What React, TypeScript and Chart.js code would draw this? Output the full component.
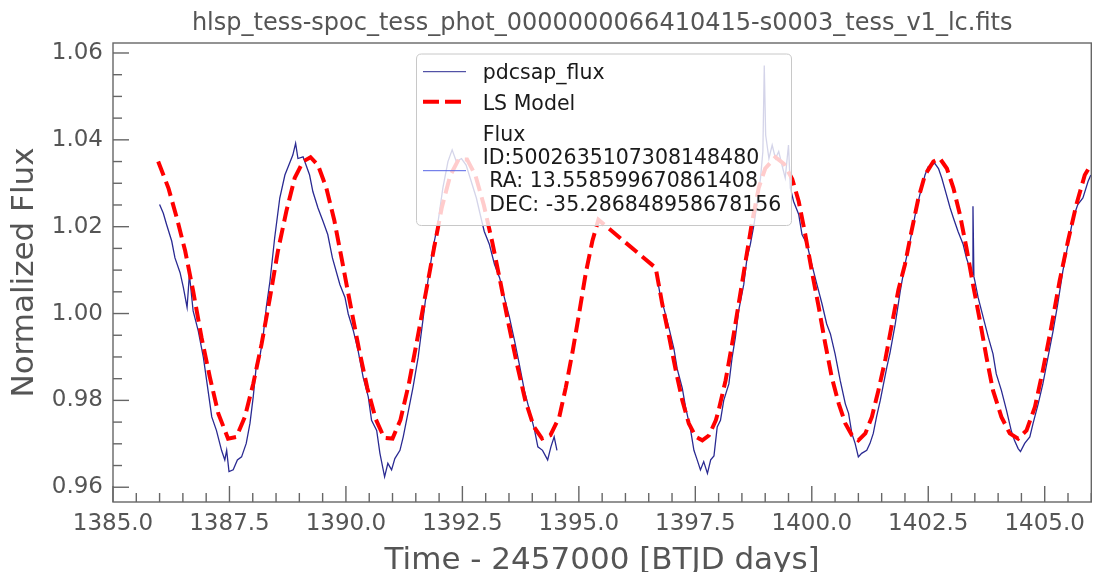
import React, { useEffect, useRef } from 'react';
import { Chart, registerables } from 'chart.js';

Chart.register(...registerables);

const titleText = 'hlsp_tess-spoc_tess_phot_0000000066410415-s0003_tess_v1_lc.fits';
const xAxisTitle = 'Time - 2457000 [BTJD days]';
const yAxisTitle = 'Normalized Flux';

const xTickValues = [1385, 1387.5, 1390, 1392.5, 1395, 1397.5, 1400, 1402.5, 1405];
const xTickLabels = ['1385.0', '1387.5', '1390.0', '1392.5', '1395.0', '1397.5', '1400.0', '1402.5', '1405.0'];
const yTickValues = [0.96, 0.98, 1.0, 1.02, 1.04, 1.06];
const yTickLabels = ['0.96', '0.98', '1.00', '1.02', '1.04', '1.06'];

const legendLabels = [
  'pdcsap_flux',
  'LS Model',
  'Flux\nID:5002635107308148480\n RA: 13.558599670861408\n DEC: -35.286848958678156',
];

// pdcsap_flux (null = data gap)
const fluxTime = [
  1386.00, 1386.08, 1386.15, 1386.26, 1386.33, 1386.44, 1386.51, 1386.59, 1386.64, 1386.72,
  1386.83, 1386.94, 1387.04, 1387.12, 1387.22, 1387.33, 1387.40, 1387.44, 1387.49, 1387.58,
  1387.67, 1387.76, 1387.86, 1387.94, 1388.01, 1388.08, 1388.15, 1388.22, 1388.29, 1388.37,
  1388.47, 1388.58, 1388.69, 1388.79, 1388.86, 1388.92, 1388.97, 1389.08, 1389.22, 1389.29,
  1389.40, 1389.51, 1389.61, 1389.71, 1389.87, 1389.98, 1390.05, 1390.16, 1390.26, 1390.37,
  1390.48, 1390.55, 1390.66, 1390.73, 1390.83, 1390.90, 1390.98, 1391.05, 1391.16, 1391.23,
  1391.33, 1391.44, 1391.55, 1391.66, 1391.76, 1391.87, 1391.97, 1392.08, 1392.19, 1392.28,
  1392.37, 1392.48, 1392.58, 1392.69, 1392.80, 1392.90, 1392.97, 1393.08, 1393.19, 1393.30,
  1393.40, 1393.51, 1393.62, 1393.72, 1393.83, 1393.94, 1394.05, 1394.12, 1394.22, 1394.33,
  1394.40, 1394.47, 1394.53, 1395.50,
  1396.66, 1396.75, 1396.83, 1396.94, 1397.04, 1397.11, 1397.22, 1397.29, 1397.40, 1397.47,
  1397.54, 1397.61, 1397.68, 1397.76, 1397.83, 1397.90, 1397.97, 1398.04, 1398.11, 1398.22,
  1398.29, 1398.36, 1398.43, 1398.54, 1398.61, 1398.68, 1398.76, 1398.83, 1398.90, 1398.95,
  1398.98, 1399.01, 1399.08, 1399.15, 1399.22, 1399.29, 1399.36, 1399.43, 1399.50, 1399.54,
  1399.61, 1399.72, 1399.79, 1399.90, 1400.00, 1400.11, 1400.22, 1400.32, 1400.40, 1400.50,
  1400.61, 1400.72, 1400.79, 1400.86, 1400.93, 1401.00, 1401.07, 1401.18, 1401.25, 1401.32,
  1401.39, 1401.47, 1401.54, 1401.61, 1401.68, 1401.79, 1401.90, 1402.00, 1402.11, 1402.22,
  1402.32, 1402.43, 1402.50, 1402.57, 1402.64, 1402.72, 1402.79, 1402.89, 1402.97, 1403.04,
  1403.14, 1403.25, 1403.32, 1403.39, 1403.45, 1403.46, 1403.48, 1403.50, 1403.57, 1403.68,
  1403.79, 1403.89, 1403.96, 1404.07, 1404.18, 1404.28, 1404.35, 1404.43, 1404.48, 1404.57,
  1404.68, 1404.75, 1404.86, 1404.96, 1405.07, 1405.18, 1405.28, 1405.39, 1405.50, 1405.61,
  1405.71, 1405.82, 1405.93, 1405.99,
];
const fluxValue = [
  1.0251, 1.0231, 1.0205, 1.0167, 1.0128, 1.0094, 1.0060, 1.0014, 1.0090, 1.0006,
  0.9960, 0.9899, 0.9823, 0.9762, 0.9731, 0.9685, 0.9663, 0.9685, 0.9636, 0.9640,
  0.9663, 0.9670, 0.9701, 0.9747, 0.9808, 0.9884, 0.9899, 0.9945, 1.0014, 1.0075,
  1.0174, 1.0266, 1.0319, 1.0346, 1.0365, 1.0392, 1.0357, 1.0361, 1.0319, 1.0281,
  1.0243, 1.0212, 1.0182, 1.0128, 1.0067, 1.0037, 0.9999, 0.9960, 0.9915, 0.9853,
  0.9808, 0.9754, 0.9731, 0.9678, 0.9624, 0.9655, 0.9640, 0.9666, 0.9685, 0.9716,
  0.9770, 0.9830, 0.9899, 0.9991, 1.0075, 1.0151, 1.0205, 1.0289, 1.0350, 1.0377,
  1.0350, 1.0357, 1.0342, 1.0304, 1.0266, 1.0220, 1.0189, 1.0159, 1.0113, 1.0082,
  1.0037, 0.9991, 0.9937, 0.9884, 0.9823, 0.9777, 0.9731, 0.9693, 0.9685, 0.9663,
  0.9693, 0.9716, 0.9685, null,
  1.0095, 1.0040, 1.0010, 0.9964, 0.9919, 0.9873, 0.9828, 0.9785, 0.9731, 0.9685,
  0.9663, 0.9640, 0.9659, 0.9632, 0.9663, 0.9672, 0.9739, 0.9754, 0.9800, 0.9838,
  0.9899, 0.9945, 1.0006, 1.0067, 1.0128, 1.0159, 1.0205, 1.0258, 1.0312, 1.0373,
  1.0571, 1.0411, 1.0357, 1.0388, 1.0357, 1.0373, 1.0342, 1.0312, 1.0388, 1.0289,
  1.0258, 1.0228, 1.0182, 1.0159, 1.0113, 1.0067, 1.0022, 0.9976, 0.9953, 0.9907,
  0.9846, 0.9792, 0.9770, 0.9724, 0.9701, 0.9670, 0.9678, 0.9685, 0.9701, 0.9724,
  0.9762, 0.9800, 0.9838, 0.9876, 0.9910, 0.9975, 1.0052, 1.0113, 1.0167, 1.0228,
  1.0274, 1.0319, 1.0338, 1.0342, 1.0346, 1.0334, 1.0312, 1.0274, 1.0243, 1.0220,
  1.0189, 1.0159, 1.0128, 1.0105, 1.0090, 1.0247, 1.0085, 1.0075, 1.0037, 0.9991,
  0.9945, 0.9907, 0.9861, 0.9823, 0.9777, 0.9731, 0.9708, 0.9689, 0.9682, 0.9701,
  0.9716, 0.9747, 0.9792, 0.9838, 0.9899, 0.9960, 1.0022, 1.0098, 1.0159, 1.0220,
  1.0251, 1.0266, 1.0304, 1.0319,
];

// LS Model
const modelTime = [
  1385.97, 1386.19, 1386.37, 1386.55, 1386.72, 1386.90, 1387.08, 1387.26, 1387.47, 1387.65,
  1387.83, 1388.01, 1388.19, 1388.37, 1388.54, 1388.72, 1388.90, 1389.08, 1389.24, 1389.40,
  1389.58, 1389.75, 1389.92, 1390.10, 1390.28, 1390.46, 1390.64, 1390.82, 1391.00, 1391.17,
  1391.35, 1391.53, 1391.71, 1391.89, 1392.06, 1392.24, 1392.42, 1392.60, 1392.78, 1392.96,
  1393.14, 1393.32, 1393.49, 1393.67, 1393.85, 1394.03, 1394.21, 1394.39, 1394.58, 1394.72,
  1394.87, 1395.01, 1395.15, 1395.29, 1395.42, 1396.65, 1396.79, 1396.94, 1397.08, 1397.22,
  1397.36, 1397.51, 1397.65, 1397.79, 1397.94, 1398.00, 1398.15, 1398.29, 1398.43, 1398.58,
  1398.72, 1398.86, 1399.00, 1399.22, 1399.40, 1399.58, 1399.72, 1399.86, 1400.00, 1400.15,
  1400.29, 1400.43, 1400.58, 1400.72, 1400.86, 1401.00, 1401.15, 1401.29, 1401.43, 1401.58,
  1401.72, 1401.86, 1402.00, 1402.14, 1402.29, 1402.43, 1402.61, 1402.75, 1402.90, 1403.04,
  1403.18, 1403.32, 1403.46, 1403.61, 1403.75, 1403.89, 1404.07, 1404.25, 1404.43, 1404.61,
  1404.79, 1404.96, 1405.14, 1405.32, 1405.50, 1405.68, 1405.86, 1405.99,
];
const modelValue = [
  1.0350, 1.0289, 1.0220, 1.0144, 1.0052, 0.9945, 0.9853, 0.9770, 0.9712, 0.9716,
  0.9762, 0.9838, 0.9930, 1.0037, 1.0144, 1.0235, 1.0312, 1.0350, 1.0360, 1.0342,
  1.0289, 1.0215, 1.0120, 1.0018, 0.9918, 0.9828, 0.9757, 0.9714, 0.9712, 0.9755,
  0.9838, 0.9940, 1.0045, 1.0150, 1.0245, 1.0318, 1.0355, 1.0355, 1.0318, 1.0250,
  1.0165, 1.0070, 0.9976, 0.9884, 0.9800, 0.9740, 0.9712, 0.9720, 0.9762, 0.9830,
  0.9915, 1.0003, 1.0094, 1.0167, 1.0216, 1.0105, 1.0022, 0.9945, 0.9869, 0.9800,
  0.9747, 0.9716, 0.9708, 0.9719, 0.9754, 0.9777, 0.9846, 0.9930, 1.0022, 1.0121,
  1.0212, 1.0289, 1.0334, 1.0360, 1.0345, 1.0310, 1.0258, 1.0182, 1.0098, 1.0014,
  0.9930, 0.9853, 0.9792, 0.9747, 0.9720, 0.9708, 0.9724, 0.9762, 0.9823, 0.9895,
  0.9975, 1.0055, 1.0113, 1.0189, 1.0266, 1.0319, 1.0350, 1.0357, 1.0334, 1.0289,
  1.0228, 1.0151, 1.0067, 0.9983, 0.9899, 0.9823, 0.9762, 0.9724, 0.9712, 0.9731,
  0.9785, 0.9869, 0.9968, 1.0075, 1.0167, 1.0251, 1.0319, 1.0342,
];

const X_MIN = 1385.0;
const X_MAX = 1406.0;
const Y_MIN = 0.9566;
const Y_MAX = 1.0623;

const FONT = "'DejaVu Sans', sans-serif";
const AXIS_COLOR = '#555555';
const FLUX_COLOR = '#2a2a92';
const MODEL_COLOR = '#ff0000';
const FLUX2_COLOR = 'rgb(85,100,230)';

const mplPlugin = {
  id: 'mplDecor',
  afterDatasetsDraw(chart: any) {
    const { ctx, chartArea: a, scales } = chart;
    const xs = scales.x;
    const ys = scales.y;
    ctx.save();
    ctx.strokeStyle = '#666666';
    ctx.lineWidth = 1.4;
    for (let k = 0; k <= 42; k++) {
      const v = X_MIN + 0.5 * k;
      if (v > X_MAX + 1e-9) break;
      const major = k % 5 === 0;
      const px = xs.getPixelForValue(v);
      ctx.beginPath();
      ctx.moveTo(px, a.bottom);
      ctx.lineTo(px, a.bottom - (major ? 16 : 9));
      ctx.stroke();
    }
    for (let k = 0; k <= 20; k++) {
      const v = 0.96 + 0.005 * k;
      if (v > Y_MAX) break;
      const major = k % 4 === 0;
      const py = ys.getPixelForValue(v);
      ctx.beginPath();
      ctx.moveTo(a.left, py);
      ctx.lineTo(a.left + (major ? 16 : 9), py);
      ctx.stroke();
    }
    ctx.strokeRect(a.left, a.top, a.right - a.left, a.bottom - a.top);
    ctx.restore();
  },
  afterDraw(chart: any) {
    const { ctx, chartArea: a } = chart;
    const cx = (a.left + a.right) / 2;
    ctx.save();
    ctx.fillStyle = AXIS_COLOR;
    ctx.textBaseline = 'alphabetic';
    ctx.textAlign = 'center';
    ctx.font = `24px ${FONT}`;
    ctx.fillText(titleText, cx, 30);
    ctx.font = `31px ${FONT}`;
    ctx.fillText(xAxisTitle, cx, 569);
    ctx.save();
    ctx.translate(33, (a.top + a.bottom) / 2);
    ctx.rotate(-Math.PI / 2);
    ctx.fillText(yAxisTitle, 0, 0);
    ctx.restore();

    // legend
    const bx = 416.5, by = 54, bw = 375, bh = 171.5, r = 5;
    ctx.beginPath();
    ctx.moveTo(bx + r, by);
    ctx.lineTo(bx + bw - r, by);
    ctx.quadraticCurveTo(bx + bw, by, bx + bw, by + r);
    ctx.lineTo(bx + bw, by + bh - r);
    ctx.quadraticCurveTo(bx + bw, by + bh, bx + bw - r, by + bh);
    ctx.lineTo(bx + r, by + bh);
    ctx.quadraticCurveTo(bx, by + bh, bx, by + bh - r);
    ctx.lineTo(bx, by + r);
    ctx.quadraticCurveTo(bx, by, bx + r, by);
    ctx.closePath();
    ctx.fillStyle = 'rgba(255,255,255,0.8)';
    ctx.fill();
    ctx.strokeStyle = 'rgba(200,200,200,1)';
    ctx.lineWidth = 1;
    ctx.stroke();

    ctx.strokeStyle = FLUX_COLOR;
    ctx.lineWidth = 1;
    ctx.beginPath();
    ctx.moveTo(423, 71.7);
    ctx.lineTo(466, 71.7);
    ctx.stroke();

    ctx.strokeStyle = MODEL_COLOR;
    ctx.lineWidth = 4;
    ctx.lineCap = 'butt';
    ctx.setLineDash([16, 6]);
    ctx.beginPath();
    ctx.moveTo(423, 101.7);
    ctx.lineTo(461, 101.7);
    ctx.stroke();
    ctx.setLineDash([]);

    ctx.strokeStyle = FLUX2_COLOR;
    ctx.lineWidth = 1;
    ctx.beginPath();
    ctx.moveTo(423, 170.7);
    ctx.lineTo(466, 170.7);
    ctx.stroke();

    ctx.fillStyle = '#1a1a1a';
    ctx.textAlign = 'left';
    ctx.font = `20.5px ${FONT}`;
    ctx.fillText(legendLabels[0], 482.7, 79.3);
    ctx.fillText(legendLabels[1], 482.7, 109.5);
    const lines = legendLabels[2].split('\n');
    lines.forEach((ln, i) => {
      ctx.fillText(ln, 482.7, 140.7 + i * 23.3);
    });
    ctx.restore();
  },
};

export default function App() {
  const ref = useRef<HTMLCanvasElement | null>(null);
  useEffect(() => {
    if (!ref.current) return;
    const fluxData = fluxTime.map((t, i) => ({ x: t, y: fluxValue[i] }));
    const modelData = modelTime.map((t, i) => ({ x: t, y: modelValue[i] }));
    const chart = new Chart(ref.current, {
      type: 'line',
      data: {
        datasets: [
          {
            label: legendLabels[1],
            data: modelData,
            borderColor: MODEL_COLOR,
            borderWidth: 4,
            borderDash: [15, 6.5],
            borderCapStyle: 'butt',
            pointRadius: 0,
            fill: false,
            tension: 0,
            order: 0,
          } as any,
          {
            label: legendLabels[0],
            data: fluxData,
            borderColor: FLUX_COLOR,
            borderWidth: 1.3,
            pointRadius: 0,
            fill: false,
            tension: 0,
            spanGaps: false,
            order: 1,
          } as any,
        ],
      },
      options: {
        animation: false,
        responsive: false,
        maintainAspectRatio: false,
        layout: { padding: { top: 43, right: 1, left: 0, bottom: 0 } },
        plugins: {
          legend: { display: false },
          tooltip: { enabled: false },
          title: { display: false },
        },
        scales: {
          x: {
            type: 'linear',
            min: X_MIN,
            max: X_MAX,
            afterBuildTicks: (s: any) => {
              s.ticks = xTickValues.map((v) => ({ value: v }));
            },
            afterFit: (s: any) => {
              s.height = 70;
            },
            grid: { display: false, drawTicks: false },
            border: { display: false },
            ticks: {
              autoSkip: false,
              maxRotation: 0,
              padding: 8,
              color: AXIS_COLOR,
              font: { family: FONT, size: 23 },
              callback: (v: any) => {
                const i = xTickValues.indexOf(Number(v));
                return i >= 0 ? xTickLabels[i] : '';
              },
            },
          },
          y: {
            type: 'linear',
            min: Y_MIN,
            max: Y_MAX,
            afterBuildTicks: (s: any) => {
              s.ticks = yTickValues.map((v) => ({ value: v }));
            },
            afterFit: (s: any) => {
              s.width = 113;
            },
            grid: { display: false, drawTicks: false },
            border: { display: false },
            ticks: {
              autoSkip: false,
              padding: 10,
              color: AXIS_COLOR,
              font: { family: FONT, size: 23 },
              callback: (v: any) => {
                const i = yTickValues.indexOf(Number(v));
                return i >= 0 ? yTickLabels[i] : '';
              },
            },
          },
        },
      },
      plugins: [mplPlugin],
    });
    return () => chart.destroy();
  }, []);
  return (
    <div style={{ position: 'fixed', left: 0, top: 0, width: 1093, height: 572, background: '#fff' }}>
      <canvas ref={ref} width={1093} height={572} style={{ display: 'block' }} />
    </div>
  );
}
